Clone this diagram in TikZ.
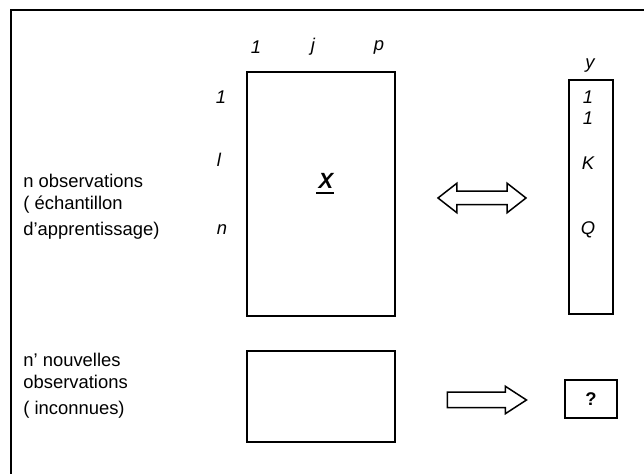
\documentclass[tikz,border=0pt]{standalone}
\usepackage{fontspec}
\setmainfont{Liberation Sans}
\usetikzlibrary{shapes.arrows}

\begin{document}
\fontsize{9.2pt}{11pt}\selectfont
\begin{tikzpicture}[x=0.5pt,y=-0.5pt,
    box/.style={draw,line width=1pt,inner sep=0pt},
    idx/.style={font=\itshape,inner sep=0pt},
    note/.style={align=left,anchor=base west,inner sep=0pt},
    bigarrow/.style={draw,line width=0.75pt,inner xsep=0pt}]
    \clip (0,0) rectangle (644,474);
    \draw[line width=1pt] (11,490) |- (660,10);
    % learning sample
    \node[box,minimum width=74pt,minimum height=122pt] (matX) at (321,194) {};
    \node[font=\fontsize{11pt}{13pt}\selectfont\bfseries\itshape,inner sep=0pt] (lblX) at (326,181) {X};
    \draw[line width=1pt] ([xshift=-1pt,yshift=-2pt]lblX.south west) -- ([yshift=-2pt]lblX.south east);
    \node[idx] (c1) at (256,47) {1};
    \node[idx] (cj) at (313,47) {j};
    \node[idx] (cp) at (379,47) {p};
    \node[idx] (r1) at (221,97) {1};
    \node[idx] (rl) at (219,160) {l};
    \node[idx] (rn) at (222,230) {n};
    \node[note] (obs) at (23,236) {n observations\\( échantillon\\[2pt] d’apprentissage)};
    % target vector
    \node[box,minimum width=22pt,minimum height=117pt] (vecY) at (591,197) {};
    \node[idx] (ly) at (590,66) {y};
    \node[idx] (y1) at (588,97) {1};
    \node[idx] (y2) at (588,118) {1};
    \node[idx] (yK) at (588,163) {K};
    \node[idx] (yQ) at (588,230) {Q};
    \node[bigarrow,double arrow,inner ysep=3pt,minimum height=44pt,minimum width=14pt,
          double arrow head extend=4pt,double arrow tip angle=76] (dbl) at (482,198) {};
    % new observations
    \node[box,minimum width=74pt,minimum height=45.5pt] (matN) at (321,396.5) {};
    \node[note] (newobs) at (23,415) {n’ nouvelles\\observations\\[2pt] ( inconnues)};
    \node[box,minimum width=26pt,minimum height=19pt,font=\bfseries] (unk) at (591,399) {?};
    \node[bigarrow,single arrow,inner ysep=3.5pt,minimum height=39.5pt,minimum width=13pt,
          single arrow head extend=3pt,single arrow tip angle=66] (pred) at (481,400) {};
\end{tikzpicture}
\end{document}
